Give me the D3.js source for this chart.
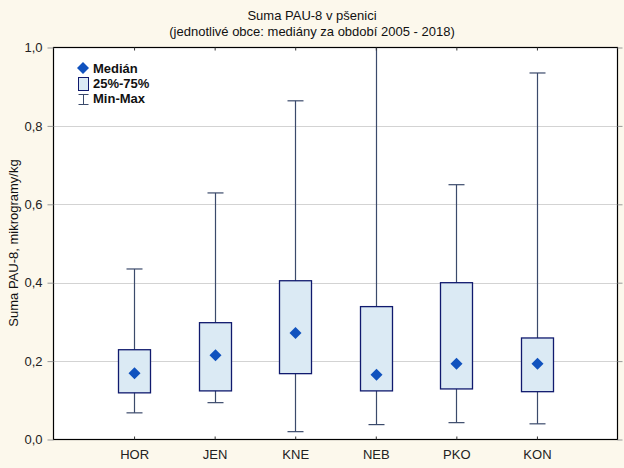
<!DOCTYPE html>
<html><head><meta charset="utf-8">
<script src="https://cdn.jsdelivr.net/npm/d3@7"></script>
<style>body{margin:0;background:#fcf8ec;}svg{display:block;font-family:"Liberation Sans",Arial,sans-serif;}</style>
</head><body><svg id="c" width="624" height="468"></svg>
<script>
const categories = ["HOR","JEN","KNE","NEB","PKO","KON"];
const minVals    = [0.068,0.094,0.020,0.038,0.043,0.040];
const q1Vals     = [0.119,0.124,0.168,0.124,0.129,0.122];
const medianVals = [0.169,0.215,0.272,0.165,0.193,0.193];
const q3Vals     = [0.229,0.298,0.405,0.339,0.400,0.259];
const maxVals    = [0.435,0.629,0.864,1.000,0.650,0.935];
const yTicks     = [0,0.2,0.4,0.6,0.8,1.0];

const svg = d3.select("#c");
const L=53.5, R=617.5, T=47.5, B=439.5;
const x = d3.scalePoint().domain(categories).range([L,R]).padding(1);
const y = d3.scaleLinear().domain([0,1]).range([B,T]);
const fmt = d => d3.format(".1f")(d).replace(".",",");
const FS = 13;

svg.append("rect").attr("x",L).attr("y",T).attr("width",R-L).attr("height",B-T).attr("fill","#fff");
// grid
svg.append("g").selectAll("line").data(yTicks.filter(d=>d>0&&d<1)).join("line")
  .attr("x1",L).attr("x2",R).attr("y1",d=>Math.round(y(d))+0.5).attr("y2",d=>Math.round(y(d))+0.5)
  .attr("stroke","#d3d3d3");

const data = categories.map((c,i)=>({c,min:minVals[i],q1:q1Vals[i],med:medianVals[i],q3:q3Vals[i],max:maxVals[i]}));
const g = svg.append("g");
const wc="#3b4a6b";
data.forEach(d=>{
  const cx=Math.round(x(d.c))+0.5;
  g.append("line").attr("x1",cx).attr("x2",cx).attr("y1",y(d.max)).attr("y2",y(d.min)).attr("stroke",wc).attr("stroke-width",1.2);
  if(d.max<1) g.append("line").attr("x1",cx-8).attr("x2",cx+8).attr("y1",y(d.max)).attr("y2",y(d.max)).attr("stroke",wc).attr("stroke-width",1.2);
  g.append("line").attr("x1",cx-8).attr("x2",cx+8).attr("y1",y(d.min)).attr("y2",y(d.min)).attr("stroke",wc).attr("stroke-width",1.2);
  g.append("rect").attr("x",cx-16).attr("y",y(d.q3)).attr("width",32).attr("height",y(d.q1)-y(d.q3))
    .attr("fill","#dbeaf4").attr("stroke","#101a6e").attr("stroke-width",1.3);
  g.append("path").attr("d",`M${cx},${y(d.med)-6}L${cx+6},${y(d.med)}L${cx},${y(d.med)+6}L${cx-6},${y(d.med)}Z`).attr("fill","#1052be");
});

// frame
svg.append("rect").attr("x",L).attr("y",T).attr("width",R-L).attr("height",B-T).attr("fill","none").attr("stroke","#000").attr("stroke-width",1.2);

// axes
const yAxis = d3.axisLeft(y).tickValues(yTicks).tickFormat(fmt).tickSize(6).tickPadding(5);
const ya = svg.append("g").attr("transform",`translate(${L},0)`).call(yAxis);
ya.select(".domain").remove();
ya.selectAll("line").attr("stroke","#999");
ya.selectAll("text").attr("font-size",FS).attr("fill","#222").attr("font-family","Liberation Sans, Arial, sans-serif");
const yr = svg.append("g").attr("transform",`translate(${R},0)`).call(d3.axisRight(y).tickValues(yTicks).tickFormat("").tickSize(5));
yr.select(".domain").remove(); yr.selectAll("line").attr("stroke","#999");

const xa = svg.append("g").attr("transform",`translate(0,${B})`).call(d3.axisBottom(x).tickSizeInner(-3).tickSizeOuter(0).tickPadding(10));
xa.select(".domain").remove();
xa.selectAll("line").attr("stroke","#333");
xa.selectAll("text").attr("font-size",FS).attr("fill","#222").attr("font-family","Liberation Sans, Arial, sans-serif");
const xt = svg.append("g").attr("transform",`translate(0,${T})`).call(d3.axisTop(x).tickSizeInner(-3).tickSizeOuter(0).tickFormat(""));
xt.select(".domain").remove(); xt.selectAll("line").attr("stroke","#333");

// titles
svg.append("text").attr("x",312).attr("y",20).attr("text-anchor","middle").attr("font-size",FS).attr("fill","#111").text("Suma PAU-8 v pšenici");
svg.append("text").attr("x",312).attr("y",36).attr("text-anchor","middle").attr("font-size",FS).attr("fill","#111").text("(jednotlivé obce: mediány za období 2005 - 2018)");
svg.append("text").attr("transform","translate(18,243) rotate(-90)").attr("text-anchor","middle").attr("font-size",FS).attr("fill","#111").text("Suma PAU-8, mikrogramy/kg");

// legend
const lg = svg.append("g").attr("font-size",FS).attr("font-weight","bold").attr("fill","#111");
lg.append("path").attr("d","M83,62L89,68L83,74L77,68Z").attr("fill","#1052be");
lg.append("text").attr("x",93).attr("y",72.5).text("Medián");
lg.append("rect").attr("x",78.5).attr("y",77.5).attr("width",10).attr("height",13).attr("fill","#dbeaf4").attr("stroke","#101a6e");
lg.append("text").attr("x",93).attr("y",88).text("25%-75%");
lg.append("path").attr("d","M78.5,94.5H88.5M83.5,94.5V104.5M78.5,104.5H88.5").attr("stroke",wc).attr("fill","none");
lg.append("text").attr("x",93).attr("y",103).text("Min-Max");
</script></body></html>
